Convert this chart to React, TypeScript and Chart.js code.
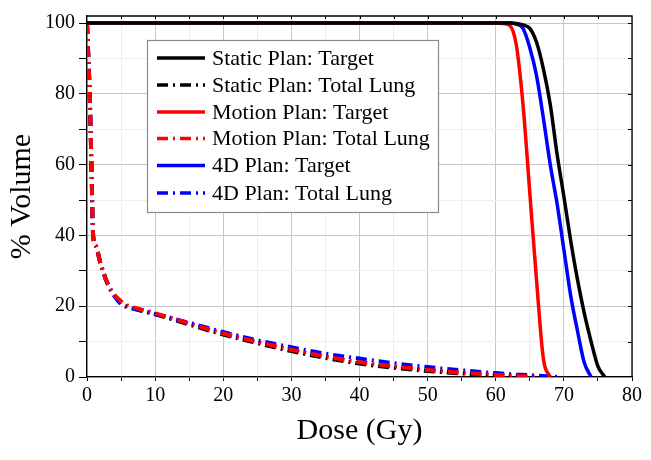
import React, { useEffect, useRef } from 'react';
import { Chart, registerables } from 'chart.js';

Chart.register(...registerables);

// ---- Data ----
const targetDose = [0, 60, 61, 62, 63, 64, 65, 66, 67, 68, 69, 70, 71, 72, 73, 74, 75, 76];
const staticTarget = [100, 100, 100, 100, 99.9, 99.5, 98.5, 94.5, 87, 77, 63, 51, 38.5, 27.5, 18, 10, 3, 0];
const motionTarget = [100, 100, 99.9, 99.4, 94, 77, 52, 27, 5, 0, null, null, null, null, null, null, null, null];
const fourDTarget = [100, 100, 100, 100, 99.7, 98.5, 93, 85, 73, 60, 49, 36, 23, 13, 4, 0, null, null];

const lungDose = [0, 0.1, 0.4, 0.65, 0.9, 1.3, 2, 3, 4, 5, 6, 7.5, 10, 12.5, 15, 20, 25, 30, 35, 40, 45, 50, 55, 60, 63, 66, 69];
const staticLung = [100, 95, 80, 60, 40, 37, 32, 26.5, 23.0, 21.0, 19.9, 19.0, 17.7, 16.3, 14.8, 12.0, 9.6, 7.3, 5.4, 3.8, 2.6, 1.7, 1.0, 0.5, 0.2, 0, null];
const motionLung = [100, 95, 80, 60, 40, 37, 32, 26.5, 23.3, 21.4, 20.2, 19.3, 18.0, 16.6, 15.1, 12.3, 9.9, 7.7, 5.8, 4.2, 3.0, 2.0, 1.2, 0.6, 0.3, 0, null];
const fourDLung = [100, 95, 80, 60, 40, 37, 32, 26.5, 23.0, 20.6, 19.7, 19.0, 17.8, 16.6, 15.3, 12.7, 10.4, 8.4, 6.6, 5.2, 3.9, 2.8, 1.9, 1.1, 0.7, 0.4, 0];

const seriesLabels = [
  'Static Plan: Target',
  'Static Plan: Total Lung',
  'Motion Plan: Target',
  'Motion Plan: Total Lung',
  '4D Plan: Target',
  '4D Plan: Total Lung',
];

const xTickValues = [0, 10, 20, 30, 40, 50, 60, 70, 80];
const yTickValues = [0, 20, 40, 60, 80, 100];

const FONT = "'Liberation Serif', 'Times New Roman', serif";
const DASH = [11, 5, 2, 5];

function pts(xs: number[], ys: (number | null)[]) {
  return xs.map((x, i) => ({ x, y: ys[i] }));
}

const legendPlugin = {
  id: 'customLegend',
  afterDatasetsDraw(chart: any) {
    const ctx = chart.ctx;
    const left = 147, top = 40, right = 438, bottom = 212;
    ctx.save();
    ctx.fillStyle = '#ffffff';
    ctx.fillRect(left, top, right - left, bottom - top);
    ctx.strokeStyle = '#8a8a8a';
    ctx.lineWidth = 1.2;
    ctx.strokeRect(left + 0.5, top + 0.5, right - left, bottom - top);
    const rows = [58, 85, 112, 138.5, 165.5, 193];
    chart.data.datasets.forEach((ds: any, i: number) => {
      const y = rows[i];
      ctx.beginPath();
      ctx.strokeStyle = ds.borderColor;
      ctx.lineWidth = 3.5;
      ctx.setLineDash(ds.borderDash || []);
      ctx.moveTo(157, y);
      ctx.lineTo(205, y);
      ctx.stroke();
      ctx.setLineDash([]);
      ctx.fillStyle = '#000';
      ctx.font = `22px ${FONT}`;
      ctx.textBaseline = 'middle';
      ctx.textAlign = 'left';
      ctx.fillText(ds.label, 212, y + 1);
    });
    ctx.restore();
  },
};

const framePlugin = {
  id: 'frame',
  afterDraw(chart: any) {
    const { ctx, chartArea } = chart;
    const { left, right, top, bottom } = chartArea;
    const xs = chart.scales.x;
    const ys = chart.scales.y;
    ctx.save();
    ctx.strokeStyle = '#000';
    ctx.lineWidth = 1.3;
    ctx.beginPath();
    ctx.moveTo(left, top);
    ctx.lineTo(right, top);
    ctx.lineTo(right, bottom);
    ctx.stroke();
    ctx.lineWidth = 1;
    ctx.beginPath();
    for (let v = 10; v <= 100; v += 10) {
      const py = Math.round(ys.getPixelForValue(v)) + 0.5;
      ctx.moveTo(right, py);
      ctx.lineTo(right - 4, py);
    }
    for (let v = 5; v < 80; v += 5) {
      const px = Math.round(xs.getPixelForValue(v)) + 0.5;
      ctx.moveTo(px, top);
      ctx.lineTo(px, top + 3);
    }
    ctx.stroke();
    ctx.restore();
  },
};

export default function App() {
  const ref = useRef<HTMLCanvasElement | null>(null);

  useEffect(() => {
    if (!ref.current) return;
    const gridColor = (ctx: any) => {
      const v = ctx.tick ? ctx.tick.value : 0;
      return v % (ctx.scale.axis === 'x' ? 10 : 20) === 0 ? '#c6c6c6' : '#eeeeee';
    };
    const chart = new Chart(ref.current, {
      type: 'line',
      data: {
        datasets: [
          { label: seriesLabels[0], data: pts(targetDose, staticTarget), borderColor: '#000000', borderWidth: 3.5, order: 0 },
          { label: seriesLabels[1], data: pts(lungDose, staticLung), borderColor: '#000000', borderWidth: 4, borderDash: DASH, order: 5 },
          { label: seriesLabels[2], data: pts(targetDose, motionTarget), borderColor: '#ff0000', borderWidth: 3.5, order: 1 },
          { label: seriesLabels[3], data: pts(lungDose, motionLung), borderColor: '#ff0000', borderWidth: 4, borderDash: DASH, order: 3 },
          { label: seriesLabels[4], data: pts(targetDose, fourDTarget), borderColor: '#0000ff', borderWidth: 3.5, order: 2 },
          { label: seriesLabels[5], data: pts(lungDose, fourDLung), borderColor: '#0000ff', borderWidth: 4, borderDash: DASH, order: 4 },
        ] as any,
      },
      options: {
        responsive: false,
        animation: false,
        layout: { padding: { top: 9, right: 19, left: 0, bottom: 0 } },
        elements: {
          point: { radius: 0 },
          line: { cubicInterpolationMode: 'monotone', fill: false },
        },
        plugins: {
          legend: { display: false },
          tooltip: { enabled: false },
        },
        scales: {
          x: {
            type: 'linear',
            min: 0,
            max: 80,
            afterFit: (s: any) => { s.height = 83; },
            ticks: {
              stepSize: 5,
              autoSkip: false,
              maxRotation: 0,
              includeBounds: false,
              padding: 3,
              color: '#000',
              font: { family: FONT, size: 20 },
              callback: (v: any) => (xTickValues.includes(v) ? String(v) : ''),
            },
            grid: { color: gridColor, tickColor: '#000', tickLength: 4, lineWidth: 1 },
            border: { color: '#000', width: 1.3 },
            title: {
              display: true,
              text: 'Dose (Gy)',
              color: '#000',
              font: { family: FONT, size: 30 },
              padding: { top: 0, bottom: 11 },
            },
          },
          y: {
            type: 'linear',
            min: 0,
            max: 102,
            afterFit: (s: any) => { s.width = 87; },
            ticks: {
              stepSize: 10,
              autoSkip: false,
              includeBounds: false,
              padding: 4,
              color: '#000',
              font: { family: FONT, size: 20 },
              callback: (v: any) => (yTickValues.includes(v) ? String(v) : ''),
            },
            grid: { color: gridColor, tickColor: '#000', tickLength: 8, lineWidth: 1 },
            border: { color: '#000', width: 1.3 },
            title: {
              display: true,
              text: '% Volume',
              color: '#000',
              font: { family: FONT, size: 30 },
              padding: { top: 4, bottom: 0 },
            },
          },
        },
      } as any,
      plugins: [legendPlugin, framePlugin],
    });
    return () => chart.destroy();
  }, []);

  return (
    <div style={{ position: 'absolute', left: 0, top: 0, width: 651, height: 460, background: '#fff' }}>
      <canvas ref={ref} width={651} height={460} style={{ display: 'block' }} />
    </div>
  );
}
